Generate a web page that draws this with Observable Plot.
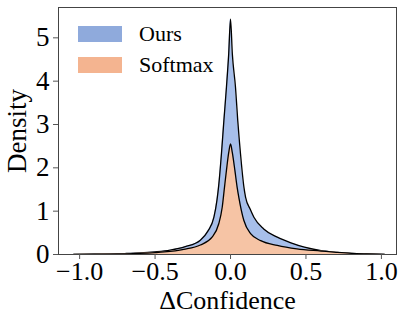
<!DOCTYPE html>
<html>
<head>
<meta charset="utf-8">
<script src="https://cdn.jsdelivr.net/npm/d3@7"></script>
<script src="https://cdn.jsdelivr.net/npm/@observablehq/plot@0.6"></script>
<style>
  html, body { margin: 0; padding: 0; background: #fff; }
  #wrap { position: relative; width: 399px; height: 313px; font-family: "Liberation Serif", "Times New Roman", serif; }
  .leg { position: absolute; left: 78px; display: flex; align-items: center; font-size: 22px; color: #000; }
  .sw { width: 44px; height: 16px; margin-right: 17px; }
</style>
</head>
<body>
<div id="wrap"></div>
<script>
// ΔConfidence positions and KDE densities
const oursX = [-1.04, -0.9, -0.8, -0.7, -0.6, -0.5, -0.4, -0.3, -0.2, -0.15, -0.11, -0.09, -0.078, -0.06, -0.044, -0.027, -0.012, 0, 0.012, 0.033, 0.048, 0.066, 0.089, 0.1, 0.13, 0.155, 0.22, 0.31, 0.4, 0.49, 0.6, 0.7, 0.8, 0.9, 1.02];
const oursY = [0.002, 0.008, 0.014, 0.022, 0.035, 0.06, 0.1, 0.18, 0.33, 0.54, 0.86, 1.25, 1.6, 2.33, 3.09, 3.86, 4.63, 5.43, 4.63, 3.86, 3.09, 2.33, 1.55, 1.32, 1.05, 0.86, 0.59, 0.40, 0.27, 0.17, 0.09, 0.05, 0.025, 0.012, 0.002];
const softX = [-1.04, -0.9, -0.8, -0.7, -0.6, -0.5, -0.44, -0.31, -0.2, -0.122, -0.078, -0.055, -0.04, -0.027, -0.012, 0, 0.012, 0.029, 0.044, 0.055, 0.088, 0.133, 0.2, 0.31, 0.44, 0.6, 0.7, 0.8, 0.9, 1.02];
const softY = [0.002, 0.006, 0.01, 0.016, 0.027, 0.045, 0.06, 0.12, 0.22, 0.40, 0.71, 1.09, 1.55, 1.94, 2.35, 2.55, 2.35, 1.94, 1.55, 1.32, 0.79, 0.48, 0.32, 0.21, 0.13, 0.08, 0.05, 0.025, 0.012, 0.002];
const xTicks = [-1, -0.5, 0, 0.5, 1];
const yTicks = [0, 1, 2, 3, 4, 5];
const seriesNames = ["Ours", "Softmax"];
const legendColors = ["#8FAADC", "#F4B490"];
const fillColors = ["#A7BFEA", "#F6C4A5"];

const ours = oursX.map((x, i) => ({x, y: oursY[i]}));
const soft = softX.map((x, i) => ({x, y: softY[i]}));
const fmt = d => d3.format(".1f")(d).replace("-", "\u2212");

const chart = Plot.plot({
  width: 399,
  height: 313,
  marginLeft: 58,
  marginRight: 3,
  marginTop: 7,
  marginBottom: 59,
  style: { fontFamily: "Liberation Serif, Times New Roman, serif", fontSize: "27px", color: "#000", background: "#fff" },
  x: { domain: [-1.14, 1.10] },
  y: { domain: [0, 5.70] },
  marks: [
    Plot.areaY(ours, {x: "x", y: "y", fill: fillColors[0], curve: "monotone-x"}),
    Plot.lineY(ours, {x: "x", y: "y", stroke: "#000", strokeWidth: 1.3, curve: "monotone-x"}),
    Plot.areaY(soft, {x: "x", y: "y", fill: fillColors[1], curve: "monotone-x"}),
    Plot.lineY(soft, {x: "x", y: "y", stroke: "#000", strokeWidth: 1.3, curve: "monotone-x"}),
    Plot.frame({stroke: "#444", strokeWidth: 1}),
    Plot.axisX({ticks: xTicks, tickFormat: fmt, tickSize: 5, tickPadding: 2, stroke: "#555", fontSize: 26, label: "\u0394Confidence", labelAnchor: "center", labelOffset: 54, labelArrow: "none"}),
    Plot.axisY({ticks: yTicks, tickFormat: d3.format("d"), tickSize: 5, tickPadding: 4, stroke: "#555", fontSize: 27, label: "Density", labelAnchor: "center", labelOffset: 52, labelArrow: "none"})
  ]
});
const wrap = document.getElementById("wrap");
wrap.appendChild(chart);
const legTops = [26, 57];
seriesNames.forEach((name, i) => {
  const d = document.createElement("div");
  d.className = "leg";
  d.style.top = (legTops[i] - 3) + "px";
  d.style.height = "22px";
  d.innerHTML = `<div class="sw" style="background:${legendColors[i]}"></div><span>${name}</span>`;
  wrap.appendChild(d);
});
</script>
</body>
</html>
